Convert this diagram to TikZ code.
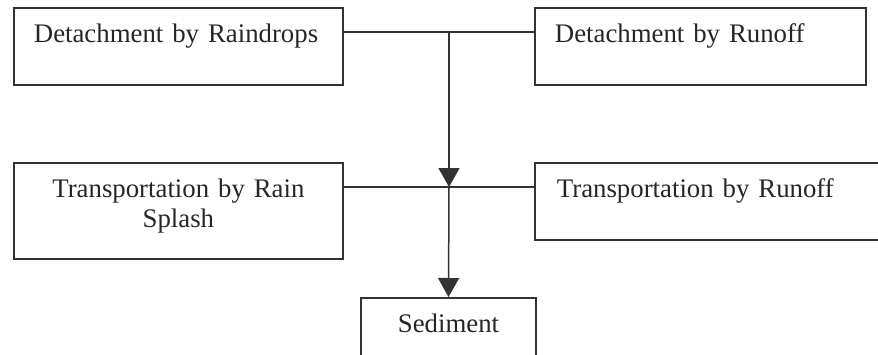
\documentclass[tikz,border=0pt]{standalone}
\usepackage{fontspec}
\setmainfont{Liberation Serif}
\usetikzlibrary{arrows.meta}

\tikzset{
	procbox/.style = {draw=black!80, line width=0.9pt, rectangle, anchor=north west,
		inner xsep=10pt, inner ysep=0pt, text height=17.5pt, text depth=21pt,
		align=left, text=black!85, font=\fontsize{13.4}{15}\selectfont},
	flow/.style = {draw=black!80, line width=0.75pt},
	flowarrow/.style = {flow, -{Triangle[width=10.5pt, length=9.5pt]}}
}

\begin{document}
\begin{tikzpicture}[x=0.5pt, y=-0.5pt]
	\useasboundingbox (0,0) rectangle (878,354);

	% detachment
	\node[procbox, text width=144.5pt] (raindrops) at (13,7) {Detachment by Raindrops};
	\node[procbox, text width=145.5pt] (runoff) at (534,7) {Detachment by Runoff};

	% transportation
	\node[procbox, text width=144.5pt, text depth=30.5pt, align=center] (splash) at (13,162) {Transportation by Rain\\Splash};
	\node[procbox, text width=150.5pt, inner xsep=11pt] (transport) at (534,162) {Transportation by Runoff};

	% sediment
	\node[procbox, anchor=north, text width=67.5pt, align=center, text depth=30pt] (sediment) at (448.5,297) {Sediment};

	\coordinate (join1) at (449,32);
	\coordinate (join2) at (449,187);

	\draw[flow] (raindrops.east |- join1) -- (runoff.west |- join1);
	\draw[flowarrow] (join1) -- (join2);
	\draw[flow] (splash.east |- join2) -- (transport.west |- join2);
	\draw[flowarrow] (join2) -- (sediment.north);
	% \draw[flow] (join2) -- (sediment);
\end{tikzpicture}
\end{document}
